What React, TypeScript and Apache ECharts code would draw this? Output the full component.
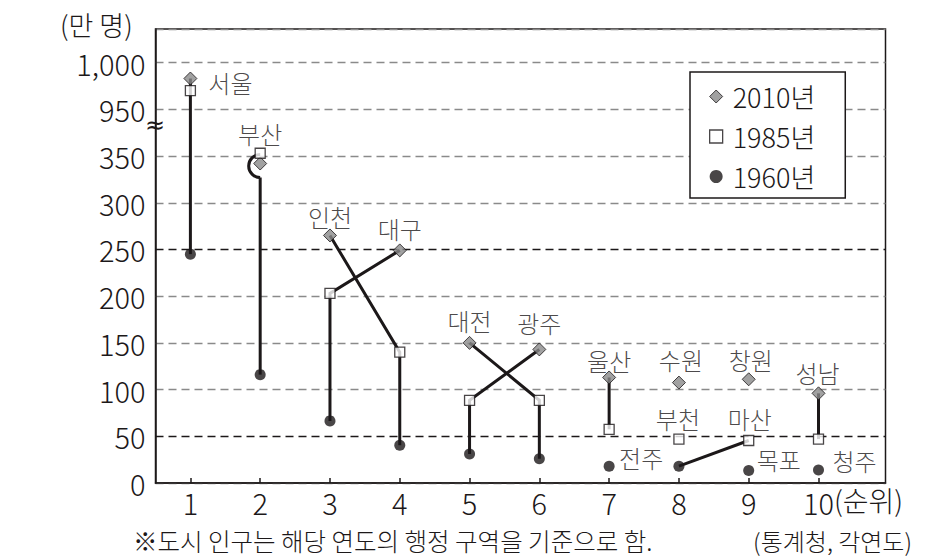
import React, { useEffect, useRef } from 'react';
import * as echarts from 'echarts';

// ---------- data ----------
const ranks = [1, 2, 3, 4, 5, 6, 7, 8, 9, 10];
const cities2010 = ['서울', '부산', '인천', '대구', '대전', '광주', '울산', '수원', '창원', '성남'];
const pop2010 = [983, 342, 265, 249, 150, 143, 113, 107.5, 111, 96];
const cities1985 = ['서울', '부산', '대구', '인천', '광주', '대전', '울산', '부천', '마산', '성남'];
const pop1985 = [970, 353, 203, 140, 88.5, 88.5, 57.5, 47, 45.5, 47];
const cities1960 = ['서울', '부산', '대구', '인천', '광주', '대전', '전주', '마산', '목포', '청주'];
const pop1960 = [245, 116, 66.5, 40.5, 31, 26, 18, 18, 13.5, 14];
const yearNames = ['2010년', '1985년', '1960년'];
const yTickValues = [0, 50, 100, 150, 200, 250, 300, 350, 950, 1000];
const xTickValues = [1, 2, 3, 4, 5, 6, 7, 8, 9, 10];

// ---------- style / layout ----------
const INK = '#1c1819';
const GRAY = '#8a8a8a';
const FONT = '"Noto Sans CJK KR", sans-serif';
const WEIGHT = 300;

// label placement (offset of label centre from marker centre), by city
const labelPlacement: Record<string, { year: number; dx: number; dy: number }> = {
  서울: { year: 0, dx: 40, dy: 4 },
  부산: { year: 1, dx: 0, dy: -20 },
  인천: { year: 0, dx: 0, dy: -19 },
  대구: { year: 0, dx: 0, dy: -22 },
  대전: { year: 0, dx: 0, dy: -22 },
  광주: { year: 0, dx: 0, dy: -27 },
  울산: { year: 0, dx: 0, dy: -17 },
  수원: { year: 0, dx: 2, dy: -23 },
  창원: { year: 0, dx: 2, dy: -19.5 },
  성남: { year: 0, dx: -1, dy: -21 },
  부천: { year: 1, dx: -1, dy: -21 },
  마산: { year: 1, dx: 1, dy: -22 },
  전주: { year: 2, dx: 32, dy: -9 },
  목포: { year: 2, dx: 30, dy: -11 },
  청주: { year: 2, dx: 36, dy: -9 },
};

// axis break: values >= 950 are drawn right after 350 (+ one step)
const BREAK_LOW = 350;
const BREAK_HIGH = 950;
const BREAK_STEP = 50;
const toDisplay = (v: number) => (v >= BREAK_HIGH ? v - BREAK_HIGH + BREAK_LOW + BREAK_STEP : v);

const yearCities = [cities2010, cities1985, cities1960];
const yearPops = [pop2010, pop1985, pop1960];

export default function App() {
  const ref = useRef<HTMLDivElement>(null);

  useEffect(() => {
    if (!ref.current) return;
    const chart = echarts.init(ref.current, undefined, { renderer: 'svg' });

    const displayTicks = yTickValues.map(toDisplay);
    const tickLabel = new Map<number, string>();
    yTickValues.forEach((v) => tickLabel.set(toDisplay(v), v.toLocaleString('en-US')));

    // connectors per city: [2010, 1985, 1960] points
    const allCities: string[] = [];
    yearCities.forEach((list) => list.forEach((c) => { if (!allCities.includes(c)) allCities.push(c); }));
    const connectors = allCities
      .map((city) =>
        yearCities.map((list, y) => {
          const i = list.indexOf(city);
          return i >= 0 ? [ranks[i], toDisplay(yearPops[y][i])] : null;
        })
      )
      .filter((pts) => pts.filter(Boolean).length >= 2);

    const lineStyle = { stroke: INK, lineWidth: 3, fill: null as any };

    const symbols = ['diamond', 'rect', 'circle'];
    const sizes = [13, 10, 11];
    const itemStyles = [
      { color: GRAY, borderColor: INK, borderWidth: 1 },
      { color: '#ffffff', borderColor: INK, borderWidth: 1.3 },
      { color: INK, borderColor: INK, borderWidth: 0 },
    ];

    const scatterSeries = yearNames.map((name, y) => ({
      name,
      type: 'scatter',
      z: 3,
      silent: true,
      symbol: symbols[y],
      symbolSize: sizes[y],
      itemStyle: itemStyles[y],
      data: yearCities[y].map((city, i) => {
        const lp = labelPlacement[city];
        const show = !!lp && lp.year === y;
        return {
          name: city,
          value: [ranks[i], toDisplay(yearPops[y][i])],
          label: show
            ? {
                show: true,
                position: 'inside',
                formatter: city,
                offset: [lp.dx, lp.dy],
                color: INK,
                fontSize: 24,
                fontWeight: WEIGHT,
                fontFamily: FONT,
              }
            : { show: false },
        };
      }),
    }));

    const option: any = {
      animation: false,
      backgroundColor: '#ffffff',
      grid: {
        left: 155.5,
        top: 29,
        width: 730,
        height: 454,
        show: true,
        borderColor: INK,
        borderWidth: 1.5,
        backgroundColor: 'transparent',
      },
      xAxis: {
        type: 'value',
        min: 0.5,
        max: 10.96,
        axisLine: { show: true, lineStyle: { color: INK, width: 1.5 } },
        axisTick: { show: true, inside: true, length: 5, customValues: xTickValues, lineStyle: { color: INK, width: 1.5 } },
        axisLabel: {
          customValues: xTickValues,
          formatter: (v: number) => String(v),
          color: INK,
          fontSize: 29,
          fontWeight: WEIGHT,
          fontFamily: FONT,
          margin: 4,
        },
        splitLine: { show: false },
      },
      yAxis: {
        type: 'value',
        min: 0,
        max: 486,
        interval: BREAK_STEP,
        axisLine: { show: true, lineStyle: { color: INK, width: 1.5 } },
        axisTick: { show: false },
        axisLabel: {
          formatter: (v: number) => (displayTicks.includes(v) ? tickLabel.get(v) : ''),
          color: INK,
          fontSize: 29,
          fontWeight: WEIGHT,
          fontFamily: FONT,
          margin: 10,
        },
        splitLine: {
          show: true,
          lineStyle: {
            color: [GRAY, INK, GRAY, GRAY, GRAY, INK, GRAY, GRAY, GRAY, GRAY, GRAY],
            width: 1.3,
            type: [8, 5],
          },
        },
      },
      legend: {
        show: true,
        orient: 'vertical',
        left: 690,
        top: 72,
        padding: [11, 30, 8, 19],
        itemGap: 13,
        itemWidth: 13,
        itemHeight: 13,
        backgroundColor: '#ffffff',
        borderColor: INK,
        borderWidth: 1.5,
        borderRadius: 0,
        z: 10,
        selectedMode: false,
        textStyle: { color: INK, fontSize: 27, fontWeight: WEIGHT, fontFamily: FONT, padding: [0, 0, 0, 5] },
        data: yearNames.map((name, y) => ({
          name,
          icon: symbols[y],
          itemStyle: itemStyles[y],
        })),
      },
      graphic: [
        {
          type: 'text',
          x: 60,
          y: 24,
          style: { text: '(만 명)', fontSize: 27, fontWeight: WEIGHT, fontFamily: FONT, fill: INK, align: 'left', verticalAlign: 'middle' },
        },
        {
          type: 'text',
          x: 155,
          y: 125,
          z: 20,
          style: { text: '≈', fontSize: 24, fontFamily: '"DejaVu Sans", sans-serif', fill: INK, align: 'center', verticalAlign: 'middle' },
        },
        {
          type: 'text',
          x: 834,
          y: 500,
          style: { text: '(순위)', fontSize: 28, fontWeight: WEIGHT, fontFamily: FONT, fill: INK, align: 'left', verticalAlign: 'middle' },
        },
        {
          type: 'text',
          x: 133,
          y: 540,
          style: {
            text: '※도시 인구는 해당 연도의 행정 구역을 기준으로 함.',
            fontSize: 24.5,
            fontWeight: WEIGHT,
            fontFamily: FONT,
            fill: INK,
            align: 'left',
            verticalAlign: 'middle',
          },
        },
        {
          type: 'text',
          x: 912,
          y: 540,
          style: { text: '(통계청, 각연도)', fontSize: 24, fontWeight: WEIGHT, fontFamily: FONT, fill: INK, align: 'right', verticalAlign: 'middle' },
        },
      ],
      series: [
        {
          name: 'connectors',
          type: 'custom',
          z: 2,
          silent: true,
          coordinateSystem: 'cartesian2d',
          data: connectors.map((pts) => pts.find(Boolean)),
          renderItem: (params: any, api: any) => {
            const pts = connectors[params.dataIndex];
            const [a, b, c] = pts as any[];
            if (a && b && c && a[0] === b[0] && b[0] === c[0] && b[1] > a[1] && a[1] > c[1]) {
              // line from the 1985 point hops around the 2010 marker
              const pa = api.coord(a);
              const pc = api.coord(c);
              const r = 11.5;
              const cy = pa[1] + 2.5;
              return {
                type: 'group',
                children: [
                  {
                    type: 'arc',
                    shape: { cx: pa[0], cy, r, startAngle: Math.PI / 2, endAngle: (Math.PI * 3) / 2, clockwise: true },
                    style: lineStyle,
                  },
                  { type: 'line', shape: { x1: pa[0], y1: cy + r, x2: pc[0], y2: pc[1] }, style: lineStyle },
                ],
              };
            }
            const coords = (pts.filter(Boolean) as number[][]).map((p) => api.coord(p));
            return { type: 'polyline', shape: { points: coords }, style: lineStyle };
          },
        },
        ...scatterSeries,
      ],
    };

    chart.setOption(option);
    return () => chart.dispose();
  }, []);

  return (
    <div
      ref={ref}
      style={{ position: 'fixed', left: 0, top: 0, width: 951, height: 559, background: '#fff' }}
    />
  );
}
